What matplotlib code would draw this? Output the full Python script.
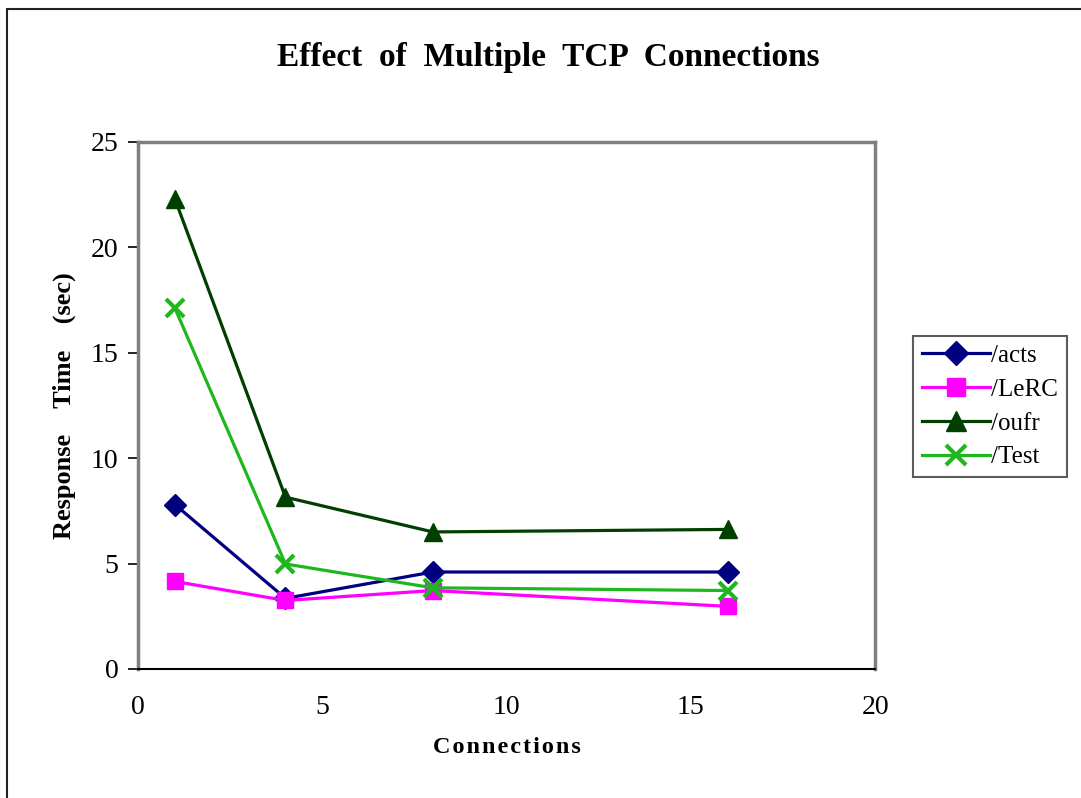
import matplotlib.pyplot as plt
from matplotlib.patches import Rectangle

# connections tested
connections = [1, 4, 8, 16]

# response time (sec) per directory
acts = [7.8, 3.35, 4.6, 4.6]
lerc = [4.15, 3.25, 3.72, 2.97]
oufr = [22.3, 8.15, 6.5, 6.62]
test = [17.12, 4.98, 3.85, 3.72]

series_names = ['/acts', '/LeRC', '/oufr', '/Test']

plt.rcParams['font.family'] = ['Liberation Serif', 'DejaVu Serif']

fig = plt.figure(figsize=(10.81, 7.98), dpi=100)
ax = fig.add_axes([0.1277, 0.1617, 0.6818, 0.6604])

# outer chart border (left and top only visible)
fig.patches.append(Rectangle((7 / 1081, -0.05), 1.2, 1 - 9 / 798 + 0.05,
                             transform=fig.transFigure, fill=False,
                             edgecolor='#222222', linewidth=1.5))

ax.plot(connections, acts, color='#000080', lw=2.3, marker='D', ms=11,
        label=series_names[0])
ax.plot(connections, lerc, color='#FF00FF', lw=2.3, marker='s', ms=12,
        label=series_names[1])
ax.plot(connections, oufr, color='#003F00', lw=2.3, marker='^', ms=13,
        label=series_names[2])
ax.plot(connections, test, color='#1EB81E', lw=2.3, marker='x', ms=13,
        mew=3, label=series_names[3])

ax.set_xlim(0, 20)
ax.set_ylim(0, 25)
ax.set_xticks([0, 5, 10, 15, 20])
ax.set_yticks([0, 5, 10, 15, 20, 25])

for side in ['left', 'right', 'top']:
    ax.spines[side].set_color('#808080')
    ax.spines[side].set_linewidth(2.5)
ax.spines['bottom'].set_color('black')
ax.spines['bottom'].set_linewidth(1.5)

ax.tick_params(axis='both', direction='out', length=7, width=1.2,
               labelsize=20, colors='black', pad=7)
ax.tick_params(axis='x', length=0, pad=19)

fig.text(0.507, 0.928, 'Effect  of  Multiple  TCP  Connections',
         ha='center', va='center', fontsize=24, fontweight='bold')
ax.set_xlabel('\u200a'.join('Connections'), fontsize=17.5,
              fontweight='bold', labelpad=12)
ax.set_ylabel('Response    Time    (sec)', fontsize=19, fontweight='bold',
              labelpad=11)

leg = ax.legend(loc='upper left', bbox_to_anchor=(1.052, 0.632), fontsize=18,
                frameon=True, fancybox=False, edgecolor='#333333',
                handlelength=2.7, handletextpad=0.05, borderpad=0.35,
                labelspacing=0.45, borderaxespad=0, markerscale=1.1)
leg.get_frame().set_linewidth(1.5)

fig.savefig('out.png', dpi=100)
